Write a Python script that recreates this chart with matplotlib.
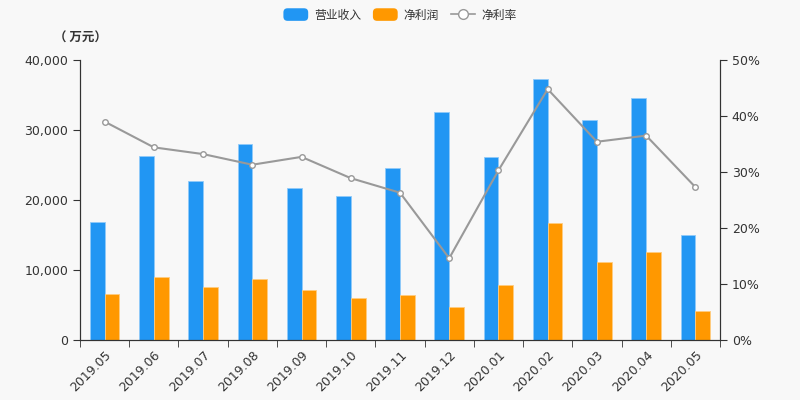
import numpy as np
import matplotlib
matplotlib.use('Agg')
import matplotlib.pyplot as plt
from matplotlib.ticker import FuncFormatter, MultipleLocator
from matplotlib.patches import Patch, FancyBboxPatch
from matplotlib.lines import Line2D
from matplotlib.legend_handler import HandlerPatch

plt.rcParams['font.family'] = ['DejaVu Sans', 'Noto Sans CJK SC']
cjk = ['Noto Sans CJK SC', 'DejaVu Sans']

months = ['2019.05', '2019.06', '2019.07', '2019.08', '2019.09', '2019.10', '2019.11',
          '2019.12', '2020.01', '2020.02', '2020.03', '2020.04', '2020.05']
revenue = [16870, 26320, 22710, 28040, 21680, 20610, 24610,
           32570, 26140, 37320, 31400, 34570, 15040]
net_profit = [6570, 9040, 7520, 8760, 7100, 5950, 6430,
              4760, 7900, 16670, 11100, 12620, 4140]
net_margin = [39.0, 34.4, 33.2, 31.3, 32.7, 28.9, 26.3,
              14.6, 30.3, 44.8, 35.4, 36.5, 27.3]

blue = '#2196f3'
orange = '#ff9800'
gray = '#999999'
bg = '#f8f8f8'
txt = '#333333'


class RoundBox(HandlerPatch):
    def create_artists(self, legend, orig_handle, xdescent, ydescent, width, height, fontsize, trans):
        p = FancyBboxPatch((-xdescent, -ydescent - 1), width, height + 2,
                           boxstyle='round,pad=0,rounding_size=3',
                           facecolor=orig_handle.get_facecolor(), edgecolor='none',
                           transform=trans)
        return [p]


fig = plt.figure(figsize=(8, 4), dpi=100, facecolor=bg)
ax = fig.add_axes([0.1, 0.15, 0.8, 0.7], facecolor=bg)
ax2 = ax.twinx()

x = np.arange(len(months))
w = 0.3
ax.bar(x - w / 2, revenue, width=w, color=blue, edgecolor='#90caf9', linewidth=0.6, zorder=2)
ax.bar(x + w / 2, net_profit, width=w, color=orange, edgecolor='#ffcc80', linewidth=0.6, zorder=2)
ax2.plot(x, net_margin, color=gray, linewidth=1.5, marker='o', markersize=4,
         markerfacecolor='white', markeredgecolor=gray, markeredgewidth=1, zorder=3)

ax.set_xlim(-0.5, len(months) - 0.5)
ax.set_ylim(0, 40000)
ax2.set_ylim(0, 50)
ax.yaxis.set_major_locator(MultipleLocator(10000))
ax2.yaxis.set_major_locator(MultipleLocator(10))
ax.yaxis.set_major_formatter(FuncFormatter(lambda v, p: '{:,.0f}'.format(v)))
ax2.yaxis.set_major_formatter(FuncFormatter(lambda v, p: '{:.0f}%'.format(v)))

ax.set_xticks(x)
ax.set_xticklabels(months, rotation=45, ha='right', va='top', rotation_mode='anchor')
ax.set_xticks(np.arange(len(months) + 1) - 0.5, minor=True)
ax.tick_params(axis='x', which='major', length=0, pad=6, labelsize=9, colors=txt)
ax.tick_params(axis='x', which='minor', length=5, color=txt)
ax.tick_params(axis='y', length=5, labelsize=9, colors=txt)
ax2.tick_params(axis='y', length=5, labelsize=9, colors=txt)

for a in (ax, ax2):
    a.spines['top'].set_visible(False)
    for s in ('left', 'right', 'bottom'):
        a.spines[s].set_color(txt)

fig.text(0.067, 0.905, '（ 万元）', ha='left', va='center', fontsize=9, color=txt,
         family=cjk, fontweight='bold')

handles = [Patch(facecolor=blue), Patch(facecolor=orange),
           Line2D([0], [0], color=gray, linewidth=1.2, marker='o', markersize=7,
                  markerfacecolor='white', markeredgecolor=gray)]
leg = fig.legend(handles, ['营业收入', '净利润', '净利率'], loc='upper center',
                 bbox_to_anchor=(0.5, 1.005), ncol=3, frameon=False,
                 prop={'family': cjk, 'size': 8.5},
                 handlelength=2.1, handleheight=0.9, columnspacing=1.0, handletextpad=0.5,
                 labelcolor=txt, handler_map={Patch: RoundBox()})

fig.savefig('out.png', dpi=100, facecolor=bg)
